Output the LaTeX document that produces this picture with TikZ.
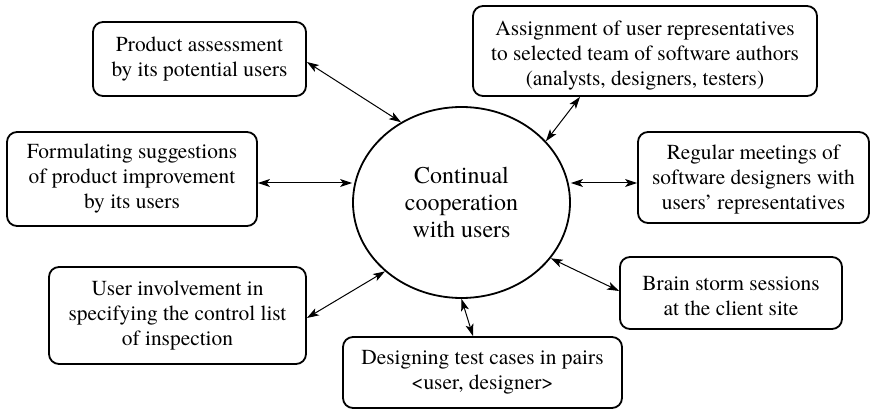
\documentclass[tikz,border=0pt]{standalone}
\usepackage{fontspec}
\newfontfamily\labelfont{texgyretermes-regular.otf}
\usetikzlibrary{shapes.geometric,arrows.meta}
\begin{document}
\begin{tikzpicture}[x=1pt,y=-1pt,
  boxfont/.style={font=\labelfont\fontsize{21.4}{25}\selectfont},
  box/.style={draw,line width=1.8pt,rounded corners=10pt,align=center,inner sep=0pt,boxfont},
  % text lowered inside its frame
  lowtext/.style n args={2}{label={[boxfont,align=center,yshift=-#1]center:#2}},
  hub/.style={draw,ellipse,line width=1.8pt,inner sep=0pt,minimum width=217pt,
    minimum height=191pt,align=center,font=\labelfont\fontsize{24}{27}\selectfont},
  link/.style={line width=1pt,{Stealth[length=12pt,width=8pt,inset=3pt]}-{Stealth[length=12pt,width=8pt,inset=3pt]}}]
\useasboundingbox (0,0) rectangle (871,409);

% central idea
\node[hub] (hub) at (461.5,202.5) {Continual\\cooperation\\with users};

% surrounding activities
\node[box,minimum width=213pt,minimum height=74pt] (b1) at (199.5,59)
  {Product assessment\\by its potential users};
\node[box,minimum width=250pt,minimum height=94pt] (b2) at (132,179)
  {Formulating suggestions\\of product improvement\\by its users};
\node[box,minimum width=344pt,minimum height=90pt,
  lowtext={5pt}{Assignment of user representatives\\to selected team of software authors\\(analysts, designers, testers)}]
  (b3) at (645,51) {};
\node[box,minimum width=231pt,minimum height=91pt,
  lowtext={2pt}{Regular meetings of\\software designers with\\users’ representatives}]
  (b4) at (753.5,177.5) {};
\node[box,minimum width=257pt,minimum height=97pt] (b5) at (177.5,315.5)
  {User involvement in\\specifying the control list\\of inspection};
\node[box,minimum width=222pt,minimum height=72pt,
  lowtext={3pt}{Brain storm sessions\\at the client site}]
  (b6) at (731,293) {};
\node[box,minimum width=279pt,minimum height=71pt] (b7) at (482.5,372.5)
  {Designing test cases in pairs\\<user, designer>};

% two-way links to the centre
\draw[link] ([yshift=-3pt]b1.east) -- (hub.127.7);
\draw[link] ([yshift=-4pt]b2.east) -- ([yshift=-4pt]b2.east -| hub.west);
\draw[link] ([xshift=-65pt]b3.south) -- (hub.36);
\draw[link] ([yshift=-5.5pt]b4.west -| hub.east) -- ([yshift=-5.5pt]b4.west);
\draw[link] ([yshift=-2.5pt]b5.east) -- (hub.222.7);
\draw[link] (hub.-32) -- ([yshift=2pt]b6.west);
\draw[link] (hub.-90) -- ([xshift=-9.5pt]b7.north);
\end{tikzpicture}
\end{document}
